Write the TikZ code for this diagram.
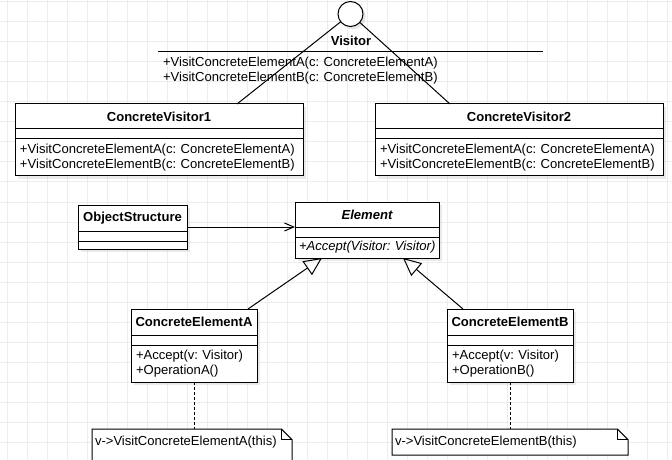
\documentclass[tikz,border=0pt]{standalone}
\usepackage{fontspec}
\setmainfont{Liberation Sans}
\usetikzlibrary{arrows.meta,positioning,shapes,shadows}
\tikzstyle{gridline}=[draw=black!7,line width=0.75pt]
\tikzstyle{lollipop}=[circle,draw,fill=white,minimum size=18.75pt,inner sep=0pt,outer sep=0pt,
drop shadow={shadow xshift=2pt,shadow yshift=-2pt,fill=black!40,opacity=0.25}]
\tikzstyle{classhead}=[rectangle,draw,fill=white,font=\bfseries,minimum height=18.75pt,
inner sep=0pt,outer sep=0pt,drop shadow={shadow xshift=2.5pt,shadow yshift=-2.5pt,fill=black!40,opacity=0.2}]
\tikzstyle{classattr}=[rectangle,draw,fill=white,minimum height=7.5pt,inner sep=0pt,outer sep=0pt,
drop shadow={shadow xshift=2.5pt,shadow yshift=-2.5pt,fill=black!40,opacity=0.2}]
\tikzstyle{classops}=[rectangle,draw,fill=white,align=left,minimum height=27.75pt,inner xsep=3.75pt,
inner ysep=0pt,outer sep=0pt,drop shadow={shadow xshift=2.5pt,shadow yshift=-2.5pt,fill=black!40,opacity=0.2}]
\tikzstyle{ifaceops}=[rectangle,align=left,minimum height=27.75pt,inner xsep=3.75pt,inner ysep=0pt,outer sep=0pt]
\tikzstyle{note}=[rectangle,fill=white,align=left,inner xsep=2.25pt,inner ysep=5.25pt,
text height=7pt,text depth=2pt,outer sep=0pt]
\tikzstyle{assoc}=[-{Straight Barb[length=7pt,width=6pt]}]
\tikzstyle{inherit}=[-{Triangle[open,length=13.5pt,width=12.5pt]}]
\tikzstyle{anchorline}=[dash pattern=on 2.25pt off 1.5pt]

\begin{document}
\frenchspacing
\fontsize{9.8pt}{10.9pt}\selectfont
\begin{tikzpicture}[x=0.75pt,y=-0.75pt,line width=0.75pt]
            \useasboundingbox[fill=white] (0,0) rectangle (672,460);
            % background grid
            \foreach \gx in {7,27,...,667} \draw[gridline] (\gx,0) -- (\gx,460);
            \foreach \gy in {2,22,...,442} \draw[gridline] (0,\gy) -- (672,\gy);

            % VISITOR PART

            \node[lollipop] (vis) at (350.5,14) {};
            \node[font=\bfseries] (vistitle) at (351,41) {Visitor};
            \node[ifaceops,anchor=north,text width=281.25pt] (visops) at (350.5,52)
                {+VisitConcreteElementA(c: ConcreteElementA)\\+VisitConcreteElementB(c: ConcreteElementB)};
            \draw (visops.north west) -- (visops.north east);

            \node[classhead,minimum width=216pt] (cv1) at (159,116.5) {ConcreteVisitor1};
            \node[classattr,minimum width=216pt,below=0pt of cv1] (cv1attr) {};
            \node[classops,text width=208.5pt,below=0pt of cv1attr] (cv1ops)
                {+VisitConcreteElementA(c: ConcreteElementA)\\+VisitConcreteElementB(c: ConcreteElementB)};

            \node[classhead,minimum width=216pt] (cv2) at (519,116.5) {ConcreteVisitor2};
            \node[classattr,minimum width=216pt,below=0pt of cv2] (cv2attr) {};
            \node[classops,text width=208.5pt,below=0pt of cv2attr] (cv2ops)
                {+VisitConcreteElementA(c: ConcreteElementA)\\+VisitConcreteElementB(c: ConcreteElementB)};

            \path (vis) edge ([xshift=58.5pt]cv1.north);
            \path (vis) edge ([xshift=-51.75pt]cv2.north);

            % ELEMENT PART

            \node[classhead,minimum width=81.75pt,minimum height=19.5pt] (objs) at (132.5,218) {ObjectStructure};
            \node[classattr,minimum width=81.75pt,below=0pt of objs] (objsattr) {};
            \node[classattr,minimum width=81.75pt,minimum height=6pt,below=0pt of objsattr] (objsops) {};

            \node[classhead,font=\bfseries\itshape,minimum width=108pt] (elem) at (367,214.5) {Element};
            \node[classattr,minimum width=108pt,below=0pt of elem] (elemattr) {};
            \node[classops,font=\itshape,inner xsep=3pt,text width=102pt,minimum height=15.75pt,
                below=0pt of elemattr] (elemops) {\mbox{+Accept(Visitor: Visitor)}};

            \node[classhead,minimum width=94.5pt,minimum height=19.5pt] (cea) at (194,322) {ConcreteElementA};
            \node[classattr,minimum width=94.5pt,below=0pt of cea] (ceaattr) {};
            \node[classops,text width=87pt,below=0pt of ceaattr] (ceaops) {+Accept(v: Visitor)\\+OperationA()};

            \node[classhead,minimum width=94.5pt,minimum height=19.5pt] (ceb) at (510,322) {ConcreteElementB};
            \node[classattr,minimum width=94.5pt,below=0pt of ceb] (cebattr) {};
            \node[classops,text width=87pt,below=0pt of cebattr] (cebops) {+Accept(v: Visitor)\\+OperationB()};

            \path[assoc] (elem.south west -| objs.east) edge (elem.south west);
            \path[inherit] ([xshift=40.5pt]cea.north) edge ([xshift=-33.75pt]elemops.south);
            \path[inherit] ([xshift=-35.25pt]ceb.north) edge ([xshift=27pt]elemops.south);

            % NOTES PART

            \node[note,text width=145.5pt,text depth=7.25pt] (notea) at (192,445.5) {v->VisitConcreteElementA(this)};
            \draw (notea.south west) -- (notea.north west) -- ([xshift=-8pt]notea.north east)
                -- ([yshift=-8pt]notea.north east) -- (notea.south east) -- cycle;
            \draw ([xshift=-8pt]notea.north east) |- ([yshift=-8pt]notea.north east);

            \node[note,text width=172.5pt] (noteb) at (510,442) {v->VisitConcreteElementB(this)};
            \draw (noteb.south west) -- (noteb.north west) -- ([xshift=-8pt]noteb.north east)
                -- ([yshift=-8pt]noteb.north east) -- (noteb.south east) -- cycle;
            \draw ([xshift=-8pt]noteb.north east) |- ([yshift=-8pt]noteb.north east);

            \path[anchorline] (ceaops) edge (ceaops |- notea.north);
            \path[anchorline] (cebops) edge (noteb);

\end{tikzpicture}
\end{document}
